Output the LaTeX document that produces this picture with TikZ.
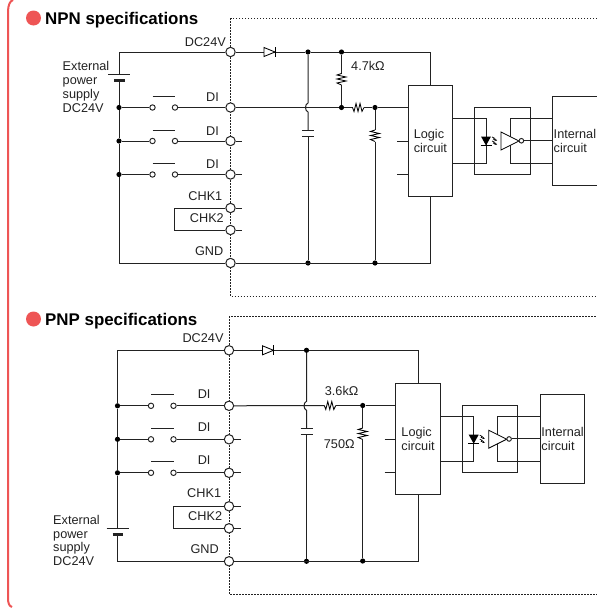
\documentclass[tikz,border=0pt]{standalone}
\usepackage{xcolor}
\usepackage{fontspec}
\setmainfont{Liberation Sans}
\usetikzlibrary{arrows.meta,calc,positioning}
\definecolor{framered}{HTML}{EE5555}
\definecolor{wirecol}{HTML}{222222}
\tikzset{
  wire/.style={draw=wirecol,line width=1pt},
  part/.style={draw=black,line width=0.85pt},
  terminal/.style={circle,draw=wirecol,line width=1pt,fill=white,minimum size=9.4pt,inner sep=0pt},
  contact/.style={circle,draw=wirecol,line width=0.95pt,fill=white,minimum size=5.4pt,inner sep=0pt},
  joint/.style={circle,fill=black,minimum size=5.2pt,inner sep=0pt},
  tag/.style={inner sep=0pt,text height=9pt,text depth=0pt,text=wirecol},
  multitag/.style={inner sep=0pt,align=left,text=wirecol},
  heading/.style={inner sep=0pt,anchor=west,text height=12pt,text depth=0pt,font=\fontsize{16.9}{18}\selectfont\bfseries},
  blockbox/.style={draw=wirecol,line width=1pt,inner sep=0pt,align=left,text=wirecol},
  resv/.pic={\draw[part] (0,0) -- (-4.5,1.5) -- (4.5,3.5) -- (-4.5,5.5) -- (4.5,7.5) -- (-4.5,9.5) -- (0,11.5);},
  resh/.pic={\draw[part] (0,0) -- (1.5,4) -- (3.5,-4) -- (5.5,4) -- (7.5,-4) -- (9.5,4) -- (11.5,0);},
  diode/.pic={\draw[part,fill=white] (0,-4.5) -- (11,0) -- (0,4.5) -- cycle;
    \draw[part] (11,-5) -- (11,5);},
  led/.pic={\fill[black] (-5,-4.5) -- (5,-4.5) -- (0,4.5) -- cycle;
    \draw[part] (-5.5,4.5) -- (5.5,4.5);
    \draw[line width=0.7pt,-{Stealth[length=2.4pt,width=2.4pt]}] (6,-4) -- (8.5,-2.8) -- (7.5,-1.8) -- (11,-0.5);
    \draw[line width=0.7pt,-{Stealth[length=2.4pt,width=2.4pt]}] (6,0) -- (8.5,1.2) -- (7.5,2.2) -- (11,3.5);},
  inverter/.pic={\draw[part,fill=white] (0,-9) -- (18,0) -- (0,9) -- cycle;},
}

\begin{document}
\begin{tikzpicture}[x=1pt,y=-1pt,font=\fontsize{12.7}{13.8}\selectfont]
\useasboundingbox (0,0) rectangle (597,608);

% Draw red frame.
\draw[framered,line width=2pt] (13,0) .. controls (10,1) and (8,5) .. (8,12) -- (8,598) .. controls (8,603) and (9,606) .. (12,607);
\fill[framered] (33.5,18) circle [radius=7.5];
\fill[framered] (33.5,319) circle [radius=7.5];
\node[heading] (npntitle) at (45,18) {NPN specifications};
\node[heading] (pnptitle) at (45,319) {PNP specifications};

% Draw terminals, switches and capacitor.
\foreach \c/\X/\Y in {npn/0/0,pnp/-1.5/298.3}{
\begin{scope}[shift={(\X,\Y)}]
\draw[wirecol,line width=1pt,dash pattern=on 1.5pt off 1.5pt] (600,18.5) -- (230.5,18.5) -- (230.5,296) -- (600,296);
\foreach \n/\y in {dc/52,di1/107.5,di2/141,di3/174.5,chka/208,chkb/230,gnd/263}
\node[terminal] (\c-\n) at (230.5,\y) {};
\foreach \n/\y in {di2/141,di3/174.5,chka/208,chkb/230}{
\coordinate (\c-\n-stub) at (242,\y);
\draw[wire] (\c-\n) -- (\c-\n-stub);
}
\foreach \i/\y in {1/107.5,2/141,3/174.5}{
\node[joint] (\c-bus\i) at (119,\y) {};
\node[contact] (\c-sl\i) at (152.5,\y) {};
\node[contact] (\c-sr\i) at (175,\y) {};
\coordinate (\c-ba\i) at (152.5,\y-11);
\coordinate (\c-bb\i) at (175,\y-11);
\draw[wire] (\c-bus\i) -- (\c-sl\i);
\draw[wire] (\c-sr\i) -- (\c-di\i);
\draw[wire] (\c-ba\i) -- (\c-bb\i);
}
\draw[wire] (\c-bus1) -- (\c-bus2) -- (\c-bus3);

% Check link.
\coordinate (\c-loopa) at (174.5,208);
\coordinate (\c-loopb) at (174.5,230);
\draw[wire] (\c-chka) -- (\c-loopa) -- (\c-loopb) -- (\c-chkb);

% Diode line and capacitor.
\node[joint] (\c-top) at (308,52) {};
\node[joint] (\c-bot) at (308,263) {};
\coordinate (\c-hopa) at (308,103);
\coordinate (\c-hopb) at (308,112);
\coordinate (\c-capa) at (308,130);
\coordinate (\c-capb) at (308,136);
\draw[wire] (\c-dc) -- (\c-top);
\pic at (264,52) {diode};
\draw[wire] (\c-top) -- (\c-hopa) to[bend right=70] (\c-hopb) -- (\c-capa);
\draw[wire] (\c-capb) -- (\c-bot);
\draw[wire] (302,130) -- (314,130);
\draw[wire] (302,136) -- (314,136);
\end{scope}
}

% Draw logic block and photocoupler.
\foreach \c/\X/\Y in {npn/0/0,pnp/-12.3/298.2}{
\begin{scope}[shift={(\X,\Y)}]
\node[blockbox,minimum width=44.7pt,minimum height=111pt] (\c-logic) at (430.35,141) {Logic\\circuit};
\node[blockbox,minimum width=44.4pt,minimum height=88.5pt] (\c-int) at (574.9,140.75) {Internal\\circuit};
\draw[wire] (\c-top) -| (\c-logic.north);
\draw[wire] (\c-gnd) -| (\c-logic.south);
\coordinate (\c-sa) at (397,141);
\coordinate (\c-sb) at (397,174.5);
\draw[wire] (\c-sa) -- (\c-sa -| \c-logic.west);
\draw[wire] (\c-sb) -- (\c-sb -| \c-logic.west);
\draw[wire] (474.7,107.5) rectangle (530,174.5);
\coordinate (\c-la) at (486,118.5);
\coordinate (\c-lb) at (486,163.5);
\coordinate (\c-ia) at (510,118.5);
\coordinate (\c-ib) at (510,163.5);
\draw[wire] (\c-la -| \c-logic.east) -- (\c-la) -- (\c-lb) -- (\c-lb -| \c-logic.east);
\draw[wire] (\c-ia -| \c-int.west) -- (\c-ia) -- (\c-ib) -- (\c-ib -| \c-int.west);
\pic at (486,141) {led};
\pic at (501,141) {inverter};
\node[contact,minimum size=4.6pt] (\c-bub) at (521.4,140.75) {};
\draw[wire] (\c-bub) -- (\c-int.west);
\end{scope}
}

% NPN side: battery, pull-up and divider.
\coordinate (npn-bata) at (119,74);
\coordinate (npn-batb) at (119,80.5);
\draw[wire] (npn-dc) -| (npn-bata);
\draw[wire] (npn-batb) -- (npn-bus1);
\draw[wire] (npn-bus3) |- (npn-gnd);
\draw[wire] (108,74) -- (130,74);
\draw[wirecol,line width=2.4pt] (114,80.5) -- (125,80.5);
\node[joint] (npn-topr) at (341.5,52) {};
\node[joint] (npn-jr) at (341.5,107.5) {};
\node[joint] (npn-mid) at (375,107.5) {};
\node[joint] (npn-botr) at (375,263) {};
\coordinate (npn-rua) at (341.5,73.5);
\coordinate (npn-rub) at (341.5,85);
\coordinate (npn-rsa) at (352.5,107.5);
\coordinate (npn-rsb) at (364,107.5);
\coordinate (npn-rda) at (375,130);
\coordinate (npn-rdb) at (375,141.5);
\draw[wire] (npn-topr) -- (npn-rua);
\draw[wire] (npn-rub) -- (npn-jr);
\pic at (npn-rua) {resv};
\draw[wire] (npn-di1) -- (npn-jr) -- (npn-rsa);
\pic at (npn-rsa) {resh};
\draw[wire] (npn-rsb) -- (npn-mid) -- (npn-mid -| npn-logic.west);
\draw[wire] (npn-mid) -- (npn-rda);
\pic at (npn-rda) {resv};
\draw[wire] (npn-rdb) -- (npn-botr);

% PNP side: battery and divider.
\coordinate (pnp-bata) at (117.5,528);
\coordinate (pnp-batb) at (117.5,534.5);
\draw[wire] (pnp-dc) -| (pnp-bus1);
\draw[wire] (pnp-bus3) -- (pnp-bata);
\draw[wire] (pnp-batb) |- (pnp-gnd);
\draw[wire] (106.5,528) -- (129,528);
\draw[wirecol,line width=2.4pt] (112.5,534.5) -- (123,534.5);
\node[joint] (pnp-mid) at (362.7,405.5) {};
\node[joint] (pnp-botr) at (362.7,561) {};
\coordinate (pnp-rsa) at (324.3,405.5);
\coordinate (pnp-rsb) at (335.8,405.5);
\coordinate (pnp-rda) at (362.7,428);
\coordinate (pnp-rdb) at (362.7,439.5);
\draw[wire] (pnp-di1) -- (pnp-rsa);
\pic at (pnp-rsa) {resh};
\draw[wire] (pnp-rsb) -- (pnp-mid) -- (pnp-mid -| pnp-logic.west);
\draw[wire] (pnp-mid) -- (pnp-rda);
\pic at (pnp-rda) {resv};
\draw[wire] (pnp-rdb) -- (pnp-botr);

% Labels.
\node[multitag] (npnext) at (86,87) {External\\power\\supply\\DC24V};
\node[multitag] (pnpext) at (76.5,540.5) {External\\power\\supply\\DC24V};
\foreach \n/\x/\y/\t in {a/226/42/DC24V,b/219/96.7/DI,c/219/130.5/DI,d/219/164/DI,e/222.5/195.5/CHK1,f/224/217.5/CHK2,g/223.5/250.5/GND,
  h/223.7/337.7/DC24V,i/210.7/394/DI,j/210.7/426.7/DI,k/210.7/459.7/DI,l/221.3/493/CHK1,m/222.3/515.5/CHK2,n/219/548.5/GND}
\node[tag,anchor=east] (tag\n) at (\x,\y) {\t};
\node[tag,anchor=west] (res47) at (351,65.7) {4.7kΩ};
\node[tag,anchor=west] (res36) at (324.7,390.7) {3.6kΩ};
\node[tag,anchor=west] (res750) at (323.7,444.3) {750Ω};
\end{tikzpicture}
\end{document}
